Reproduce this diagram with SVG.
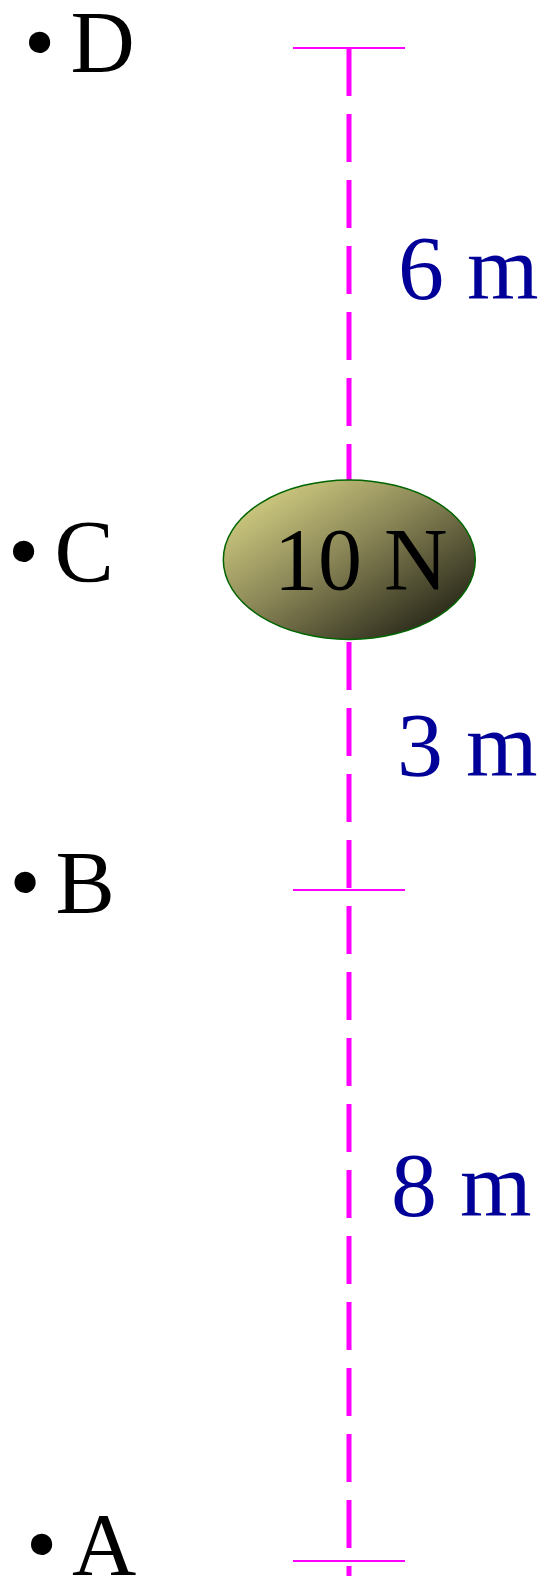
<svg xmlns="http://www.w3.org/2000/svg" width="542" height="1576" viewBox="0 0 542 1576">
<style>
.lbl{font-family:"Liberation Serif","Times New Roman",serif;font-size:89px;fill:#000}
.dim{font-family:"Liberation Serif","Times New Roman",serif;font-size:92px;fill:#000099}
.tick{stroke:#ff00ff;stroke-width:2}
.axis{stroke:#ff00ff;stroke-width:5;stroke-dasharray:48 18;fill:none}
</style>
<defs>
<linearGradient id="g" x1="0" y1="0" x2="1" y2="1">
<stop offset="0" stop-color="#e6e28e"/>
<stop offset="0.45" stop-color="#8c8858"/>
<stop offset="1" stop-color="#0e0e08"/>
</linearGradient>
</defs>
<g id="connectors">
<line class="axis" x1="349" y1="48" x2="349" y2="1576"/>
<line class="tick" x1="293" y1="48" x2="405" y2="48"/>
<line class="tick" x1="293" y1="890" x2="405" y2="890"/>
<line class="tick" x1="293" y1="1561" x2="405" y2="1561"/>
</g>
<g id="weight">
<ellipse cx="349.3" cy="559.7" rx="126" ry="79.7" fill="url(#g)" stroke="#006400" stroke-width="1.5"/>
<text class="lbl" x="274" y="589" style="font-size:88px">10 N</text>
</g>
<g id="pointD"><text class="lbl" y="72"><tspan x="39.5" text-anchor="middle">•</tspan><tspan x="70.5">D</tspan></text></g>
<g id="pointC"><text class="lbl" y="581"><tspan x="23.5" text-anchor="middle">•</tspan><tspan x="54.5">C</tspan></text></g>
<g id="pointB"><text class="lbl" y="912"><tspan x="25" text-anchor="middle">•</tspan><tspan x="55.5">B</tspan></text></g>
<g id="pointA"><text class="lbl" y="1574"><tspan x="41.5" text-anchor="middle">•</tspan><tspan x="72">A</tspan></text></g>
<g id="dim6"><text class="dim" x="398" y="299">6 m</text></g>
<g id="dim3"><text class="dim" x="397" y="776">3 m</text></g>
<g id="dim8"><text class="dim" x="391" y="1216">8 m</text></g>
</svg>
